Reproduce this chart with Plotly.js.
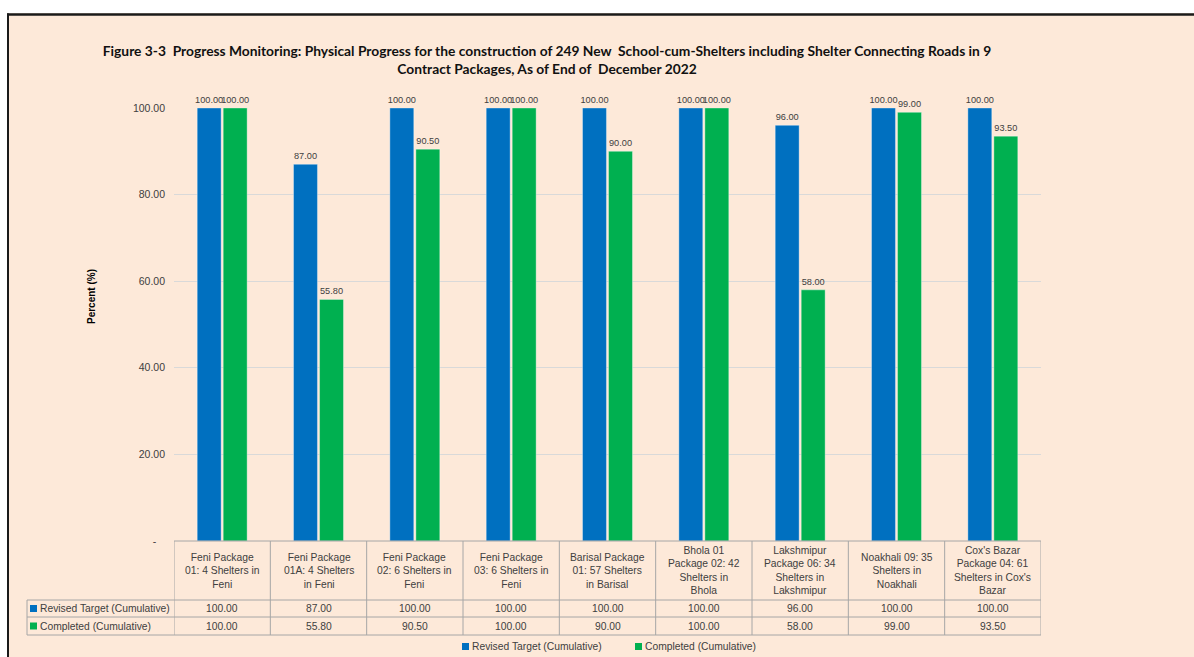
<!DOCTYPE html>
<html>
<head>
<meta charset="utf-8">
<script src="https://cdn.plot.ly/plotly-3.0.1.min.js"></script>
<style>
  html, body { margin: 0; padding: 0; background: #ffffff; }
  #chart { width: 1194px; height: 657px; }
</style>
</head>
<body>
<div id="chart"></div>
<script>
// ---------- DATA ----------
const categories = [
  "Feni Package<br>01: 4 Shelters in<br>Feni",
  "Feni Package<br>01A: 4 Shelters<br>in Feni",
  "Feni Package<br>02: 6 Shelters in<br>Feni",
  "Feni Package<br>03: 6 Shelters in<br>Feni",
  "Barisal Package<br>01: 57 Shelters<br>in Barisal",
  "Bhola 01<br>Package 02: 42<br>Shelters in<br>Bhola",
  "Lakshmipur<br>Package 06: 34<br>Shelters in<br>Lakshmipur",
  "Noakhali 09: 35<br>Shelters in<br>Noakhali",
  "Cox's Bazar<br>Package 04: 61<br>Shelters in Cox's<br>Bazar"
];
const seriesNames = ["Revised Target (Cumulative)", "Completed (Cumulative)"];
const revisedTarget = [100, 87, 100, 100, 100, 100, 96, 100, 100];
const completed = [100, 55.8, 90.5, 100, 90, 100, 58, 99, 93.5];
const yTickValues = [0, 20, 40, 60, 80, 100];
const yTickLabels = ["-\u00a0\u00a0\u00a0", "20.00", "40.00", "60.00", "80.00", "100.00"];
const titleText = "Figure 3-3\u00a0 Progress Monitoring: Physical Progress for the construction of 249 New\u00a0 School-cum-Shelters including Shelter Connecting Roads in 9<br>Contract Packages, As of End of\u00a0 December 2022";
const yTitleText = "Percent (%)";

// ---------- STYLE / LAYOUT ----------
const W = 1194, H = 657;
const ML = 174, MR = 153, MT = 108, MB = 116;
const PW = W - ML - MR, PH = H - MT - MB;
const px = p => (p - ML) / PW;           // pixel x -> paper x
const py = p => (H - MB - p) / PH;       // pixel y -> paper y
const colors = ["#0070C0", "#00B050"];
const bg = "#FDE9D9";
const txt = "#404040";
const gridCol = "#D9D9D9";
const tableCol = "#A6A6A6";
const fontFam = "Liberation Sans, Arial, sans-serif";

const xIdx = categories.map((_, i) => i);
const seriesValues = [revisedTarget, completed];

const traces = seriesValues.map((vals, s) => ({
  type: "bar",
  name: seriesNames[s],
  x: xIdx,
  y: vals,
  marker: { color: colors[s], line: { color: "rgba(255,255,255,0.35)", width: 1 } },
  text: vals.map(v => v.toFixed(2)),
  textposition: "outside",
  constraintext: "none",
  cliponaxis: false,
  textfont: { family: fontFam, size: 9.2, color: txt },
  hoverinfo: "skip"
}));

const shapes = [];
const annotations = [];

// Table geometry (pixel rows)
const rowTop = 541, rowHdrBot = 600, row1Bot = 617, row2Bot = 635, tableLeft = 27;
const hline = (y, x0) => shapes.push({ type: "line", xref: "paper", yref: "paper",
  x0: x0, x1: 1, y0: py(y), y1: py(y), line: { color: tableCol, width: 1 } });
hline(rowTop, 0);
hline(rowHdrBot, px(tableLeft));
hline(row1Bot, px(tableLeft));
hline(row2Bot, px(tableLeft));
for (let i = 0; i <= categories.length; i++) {
  shapes.push({ type: "line", xref: "x", yref: "paper", x0: i - 0.5, x1: i - 0.5,
    y0: py(rowTop), y1: py(row2Bot), line: { color: tableCol, width: 1 } });
}
shapes.push({ type: "line", xref: "paper", yref: "paper", x0: px(tableLeft), x1: px(tableLeft),
  y0: py(rowHdrBot), y1: py(row2Bot), line: { color: tableCol, width: 1 } });

// Header labels
categories.forEach((c, i) => annotations.push({
  xref: "x", yref: "paper", x: i, y: py((rowTop + rowHdrBot) / 2),
  text: c, showarrow: false, xanchor: "center", yanchor: "middle",
  font: { family: fontFam, size: 10.3, color: txt }
}));
// Row values + row labels
const rowCenters = [(rowHdrBot + row1Bot) / 2, (row1Bot + row2Bot) / 2];
seriesValues.forEach((vals, s) => {
  vals.forEach((v, i) => annotations.push({
    xref: "x", yref: "paper", x: i, y: py(rowCenters[s]),
    text: v.toFixed(2), showarrow: false, xanchor: "center", yanchor: "middle",
    font: { family: fontFam, size: 10.3, color: txt }
  }));
  shapes.push({ type: "rect", xref: "paper", yref: "paper",
    x0: px(30), x1: px(37), y0: py(rowCenters[s] - 3.5), y1: py(rowCenters[s] + 3.5),
    fillcolor: colors[s], line: { width: 0 } });
  annotations.push({ xref: "paper", yref: "paper", x: px(38), y: py(rowCenters[s]),
    text: seriesNames[s], showarrow: false, xanchor: "left", yanchor: "middle",
    font: { family: fontFam, size: 10.3, color: txt } });
});

// Bottom legend
const legendY = 646.5;
const legendX = [462, 635];
seriesNames.forEach((n, s) => {
  shapes.push({ type: "rect", xref: "paper", yref: "paper",
    x0: px(legendX[s]), x1: px(legendX[s] + 7), y0: py(legendY - 3.5), y1: py(legendY + 3.5),
    fillcolor: colors[s], line: { width: 0 } });
  annotations.push({ xref: "paper", yref: "paper", x: px(legendX[s] + 8), y: py(legendY),
    text: n, showarrow: false, xanchor: "left", yanchor: "middle",
    font: { family: fontFam, size: 10.3, color: txt } });
});

// Y-axis title
annotations.push({ xref: "paper", yref: "paper", x: px(91), y: py(297),
  text: "<b>" + yTitleText + "</b>", textangle: -90, showarrow: false,
  xanchor: "center", yanchor: "middle",
  font: { family: fontFam, size: 10, color: "#000000" } });

// Outer frame (white margin + black border)
shapes.push({ type: "rect", xref: "paper", yref: "paper", layer: "above",
  x0: px(0), x1: px(W), y0: py(0), y1: py(13), fillcolor: "#ffffff", line: { width: 0 } });
shapes.push({ type: "rect", xref: "paper", yref: "paper", layer: "above",
  x0: px(0), x1: px(7), y0: py(0), y1: py(H), fillcolor: "#ffffff", line: { width: 0 } });
shapes.push({ type: "line", xref: "paper", yref: "paper", layer: "above",
  x0: px(7), x1: px(W), y0: py(14.5), y1: py(14.5), line: { color: "#1a1a1a", width: 2.5 } });
shapes.push({ type: "line", xref: "paper", yref: "paper", layer: "above",
  x0: px(8), x1: px(8), y0: py(13.5), y1: py(H), line: { color: "#1a1a1a", width: 2 } });

const layout = {
  width: W, height: H,
  margin: { l: ML, r: MR, t: MT, b: MB, pad: 0 },
  paper_bgcolor: bg, plot_bgcolor: bg,
  showlegend: false,
  barmode: "group",
  bargap: 0.46,
  bargroupgap: 0.08,
  title: {
    text: "<b>" + titleText + "</b>",
    xref: "container", yref: "container",
    x: 547 / W, y: 1 - 56 / H, xanchor: "center", yanchor: "middle",
    font: { family: "Lato, Liberation Sans, sans-serif", size: 13.8, color: "#111111" }
  },
  xaxis: {
    type: "linear", range: [-0.5, categories.length - 0.5],
    showticklabels: false, showgrid: false, zeroline: false, ticks: "", showline: false,
    fixedrange: true
  },
  yaxis: {
    range: [0, 100], tickvals: yTickValues, ticktext: yTickLabels,
    showgrid: true, gridcolor: gridCol, gridwidth: 1, zeroline: false, showline: false,
    ticks: "", ticklabelstandoff: 8,
    tickfont: { family: fontFam, size: 10.5, color: txt },
    fixedrange: true
  },
  shapes: shapes,
  annotations: annotations,
  font: { family: fontFam, color: txt }
};

Plotly.newPlot("chart", traces, layout, { displayModeBar: false, staticPlot: true });
</script>
</body>
</html>
